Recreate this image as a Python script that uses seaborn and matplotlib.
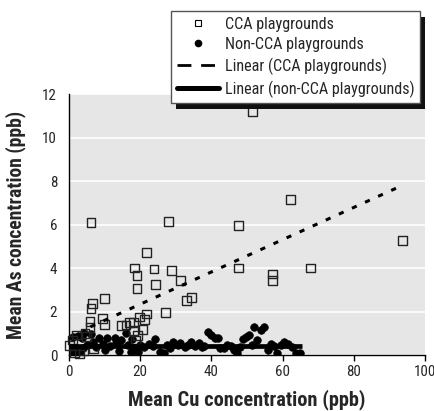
import numpy as np
import pandas as pd
import matplotlib
matplotlib.use("Agg")
import matplotlib.pyplot as plt
import matplotlib.font_manager as fm
import seaborn as sns
from matplotlib.patches import Rectangle
from matplotlib.lines import Line2D

# ---- data ----
cca_x = [51.6, 6.2, 28.0, 47.6, 62.3, 93.7, 47.6, 67.8, 57.2, 57.2, 21.7, 18.5, 19.1, 19.1,
         23.9, 24.4, 28.7, 31.3, 33.0, 34.3, 27.1, 21.8, 9.9, 6.5, 6.2, 9.4, 9.9, 5.9, 5.9,
         14.8, 16.0, 17.1, 18.1, 19.9, 21.2, 20.8, 18.2, 19.2, 18.7, 2.0, 1.0, 0.1, 4.9, 6.8,
         4.0, 1.5, 3.0, 4.5]
cca_y = [11.2, 6.08, 6.14, 5.97, 7.15, 5.26, 4.0, 4.0, 3.72, 3.41, 4.72, 4.0, 3.65, 3.06,
         3.95, 3.25, 3.89, 3.43, 2.52, 2.65, 1.95, 1.89, 2.6, 2.37, 2.12, 1.69, 1.41, 1.54, 1.28,
         1.35, 1.38, 1.51, 1.51, 1.75, 1.63, 1.18, 1.11, 0.89, 0.69, 0.92, 0.69, 0.42, 0.85, 0.28,
         0.2, 0.1, 0.05, 1.0]

non_x = [0.5, 1.0, 1.5, 2.4, 3.0, 3.6, 4.3, 5.0, 6.3, 6.8, 7.5, 8.5, 9.5, 10.8, 11.5, 12.9,
         13.1, 14.7, 15.9, 16.5, 17.3, 17.8, 18.5, 19.5, 20.0, 21.0, 22.5, 23.5, 24.1, 25.5,
         26.8, 27.5, 28.5, 29.2, 30.5, 31.3, 32.5, 33.5, 34.3, 35.5, 36.6, 37.5, 38.0, 39.0,
         39.9, 41.0, 41.8, 42.5, 43.5, 44.5, 45.5, 46.4, 47.2, 48.0, 48.8, 49.7, 50.6, 51.5,
         52.0, 52.9, 53.9, 54.8, 55.8, 56.7, 57.5, 58.5, 59.5, 60.4, 61.5, 62.5, 63.7, 65.0,
         2.0, 4.0, 10.0, 14.0]
non_y = [0.25, 0.81, 0.1, 0.88, 0.15, 0.79, 1.0, 0.45, 0.97, 0.6, 0.35, 0.77, 0.5, 0.8, 0.4,
         0.78, 0.55, 0.7, 1.0, 0.45, 0.15, 0.75, 0.3, 0.15, 0.45, 0.35, 0.5, 0.4, 0.72, 0.15,
         0.08, 0.45, 0.3, 0.62, 0.45, 0.55, 0.35, 0.45, 0.62, 0.4, 0.55, 0.35, 0.42, 1.08,
         0.92, 0.8, 0.77, 0.3, 0.3, 0.45, 0.4, 0.23, 0.1, 0.35, 0.75, 0.81, 0.92, 0.45,
         1.31, 0.69, 1.15, 1.31, 0.23, 0.5, 0.4, 0.1, 0.45, 0.62, 0.5, 0.35, 0.1, 0.1,
         0.2, 0.3, 0.25, 0.2]

# linear fits (slope, intercept, x range)
cca_fit = (0.0742, 0.85, 6.0, 92.6)
non_fit = (0.0, 0.43, 0.0, 65.5)

labels = ["CCA playgrounds", "Non-CCA playgrounds",
          "Linear (CCA playgrounds)", "Linear (non-CCA playgrounds)"]
x_ticks = [0, 20, 40, 60, 80, 100]
y_ticks = [0, 2, 4, 6, 8, 10, 12]
x_label = "Mean Cu concentration (ppb)"
y_label = "Mean As concentration (ppb)"

# ---- style ----
sns.set_style("white")

# prefer a narrow sans font if one is installed
_fl = fm.fontManager.ttflist
_names = {f.name for f in _fl}
family = None
stretch = 'normal'
for cand in ['Liberation Sans Narrow', 'Roboto Condensed', 'Open Sans Condensed',
             'Noto Sans Condensed', 'DejaVu Sans Condensed', 'Arial Narrow']:
    if cand in _names:
        family = cand
        break
if family is None:
    conds = [f for f in _fl if f.stretch in ('condensed', 'semi-condensed')
             or (isinstance(f.stretch, int) and f.stretch < 500)]
    if conds:
        family = conds[0].name
        stretch = 'condensed'
if family is None:
    family = 'Liberation Sans' if 'Liberation Sans' in _names else 'DejaVu Sans'
plt.rcParams['font.family'] = [family, 'DejaVu Sans']
plt.rcParams['font.stretch'] = stretch

fig = plt.figure(figsize=(4.35, 4.11), dpi=100)
renderer = fig.canvas.get_renderer()


def fit_size(text, target_px, weight='normal', base=12.0):
    t = fig.text(0, 0, text, fontsize=base, fontweight=weight)
    w = t.get_window_extent(renderer=renderer).width
    t.remove()
    return base * target_px / w


fs_xlab = fit_size(x_label, 237, 'bold')
fs_ylab = fit_size(y_label, 229, 'bold')
fs_tick = min(fit_size("100", 22), 11.5)
fs_leg = fit_size(labels[3], 190)

ax = fig.add_axes([69/435, 1-355/411, (425-69)/435, (355-94)/411])
ax.set_facecolor('#e6e6e6')

df_c = pd.DataFrame({'x': cca_x, 'y': cca_y})
df_n = pd.DataFrame({'x': non_x, 'y': non_y})

sns.scatterplot(data=df_n, x='x', y='y', ax=ax, marker='o', s=30, color='black',
                edgecolor='black', linewidth=0.5, zorder=3)
sns.scatterplot(data=df_c, x='x', y='y', ax=ax, marker='s', s=40, facecolor='none',
                edgecolor='#222222', linewidth=1.0, zorder=4, clip_on=False)

xc = np.array(cca_fit[2:])
ax.plot(xc, cca_fit[0]*xc + cca_fit[1], color='black', lw=2.2,
        linestyle=(0, (1.7, 3.0)), zorder=5, solid_capstyle='butt')
xn = np.array(non_fit[2:])
ax.plot(xn, non_fit[0]*xn + non_fit[1], color='black', lw=3.4, zorder=5,
        solid_capstyle='butt')

ax.set_xlim(0, 100)
ax.set_ylim(0, 12)
ax.set_xticks(x_ticks)
ax.set_yticks(y_ticks)
ax.set_xticklabels([str(v) for v in x_ticks], fontsize=fs_tick)
ax.set_yticklabels([str(v) for v in y_ticks], fontsize=fs_tick)
ax.yaxis.grid(True, color='white', lw=1.2)
ax.xaxis.grid(False)
ax.set_axisbelow(True)
for s in ['top', 'right']:
    ax.spines[s].set_visible(False)
for s in ['left', 'bottom']:
    ax.spines[s].set_color('black')
    ax.spines[s].set_linewidth(1.0)
ax.tick_params(axis='x', bottom=True, length=4.5, width=1, color='black', pad=3)
ax.tick_params(axis='y', left=False, pad=5)

ax.set_xlabel(x_label, fontsize=fs_xlab, fontweight='bold', labelpad=7)
ax.set_ylabel(y_label, fontsize=fs_ylab, fontweight='bold', labelpad=12)

handles = [
    Line2D([], [], marker='s', ls='none', markersize=5, markerfacecolor='none',
           markeredgecolor='black', markeredgewidth=0.8),
    Line2D([], [], marker='o', ls='none', markersize=4.5, color='black'),
    Line2D([], [], color='black', lw=2.0, ls=(0, (5, 3.5))),
    Line2D([], [], color='black', lw=3.6),
]

fs_px = fs_leg * 100 / 72.0


def make_legend(lspace, bpad):
    lg = fig.legend(handles, labels, loc='upper left',
                    bbox_to_anchor=(171/435, 1-11/411),
                    frameon=True, fancybox=False, edgecolor='#555555', framealpha=1,
                    fontsize=fs_leg, handlelength=42/fs_px, handletextpad=6/fs_px,
                    borderpad=bpad, labelspacing=lspace, borderaxespad=0)
    lg.get_frame().set_linewidth(1.0)
    lg.set_zorder(10)
    return lg


lspace, bpad = 0.4, 0.35
leg = make_legend(lspace, bpad)
fig.canvas.draw()
tb = [t.get_window_extent() for t in leg.get_texts()]
pitch = (tb[0].y0 - tb[3].y0) / 3
lspace = lspace + (22 - pitch) / fs_px
leg.remove()
leg = make_legend(lspace, bpad)
fig.canvas.draw()

bb = leg.get_window_extent()
off = 5.5
shadow = Rectangle((bb.x0 + off, bb.y0 - off), bb.width, bb.height,
                   transform=None, facecolor='#111111', edgecolor='none', zorder=9)
fig.add_artist(shadow)

fig.savefig("out.png", dpi=100)
